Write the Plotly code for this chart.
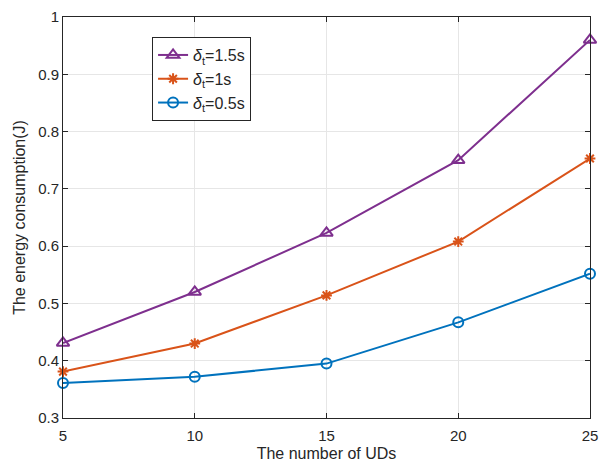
import plotly.graph_objects as go

x_uds = [5, 10, 15, 20, 25]
e_15 = [0.431, 0.520, 0.623, 0.750, 0.960]
e_10 = [0.381, 0.430, 0.514, 0.608, 0.753]
e_05 = [0.361, 0.372, 0.395, 0.467, 0.552]

names = ["<i>δ</i><sub>t</sub>=1.5s", "<i>δ</i><sub>t</sub>=1s", "<i>δ</i><sub>t</sub>=0.5s"]
series = [e_15, e_10, e_05]
colors = ["#7E2F8E", "#D95319", "#0072BD"]
symbols = ["triangle-up-open", "asterisk-open", "circle-open"]
sizes = [11, 9, 10]

fig = go.Figure()
for n, s, c, sym, sz in zip(names, series, colors, symbols, sizes):
    fig.add_trace(go.Scatter(
        x=x_uds, y=s, name=n, mode="lines+markers",
        line=dict(color=c, width=2),
        marker=dict(symbol=sym, size=sz, color=c, line=dict(color=c, width=2)),
        cliponaxis=False,
    ))

axis_common = dict(
    showline=True, linecolor="#262626", linewidth=1, mirror="ticks",
    ticks="inside", ticklen=5, tickcolor="#262626",
    showgrid=True, gridcolor="#E6E6E6", gridwidth=1, zeroline=False,
    automargin=False,
    tickfont=dict(family="Liberation Sans, Arial", size=15, color="#262626"),
)

fig.update_layout(
    width=600, height=466,
    margin=dict(l=63, r=10, t=17, b=48),
    paper_bgcolor="white", plot_bgcolor="white",
    font=dict(family="Liberation Sans, Arial", color="#262626"),
    xaxis=dict(range=[5, 25], tickvals=[5, 10, 15, 20, 25],
               ticklabeloverflow="allow", ticklabelstandoff=4,
               title=dict(text="The number of UDs", font=dict(size=16), standoff=4),
               **axis_common),
    yaxis=dict(range=[0.3, 1.0], tickvals=[0.3, 0.4, 0.5, 0.6, 0.7, 0.8, 0.9, 1.0],
               ticktext=["0.3", "0.4", "0.5", "0.6", "0.7", "0.8", "0.9", "1"],
               title=dict(text="The energy consumption(J)", font=dict(size=16), standoff=8),
               **axis_common),
    legend=dict(x=0.169, y=0.95, xanchor="left", yanchor="top",
                bgcolor="white", bordercolor="#262626", borderwidth=1,
                font=dict(size=16, color="#262626"), tracegroupgap=2),
    showlegend=True,
)

fig.write_html("out.html", config={"displayModeBar": False},
               post_script="document.body.style.margin='0';")
